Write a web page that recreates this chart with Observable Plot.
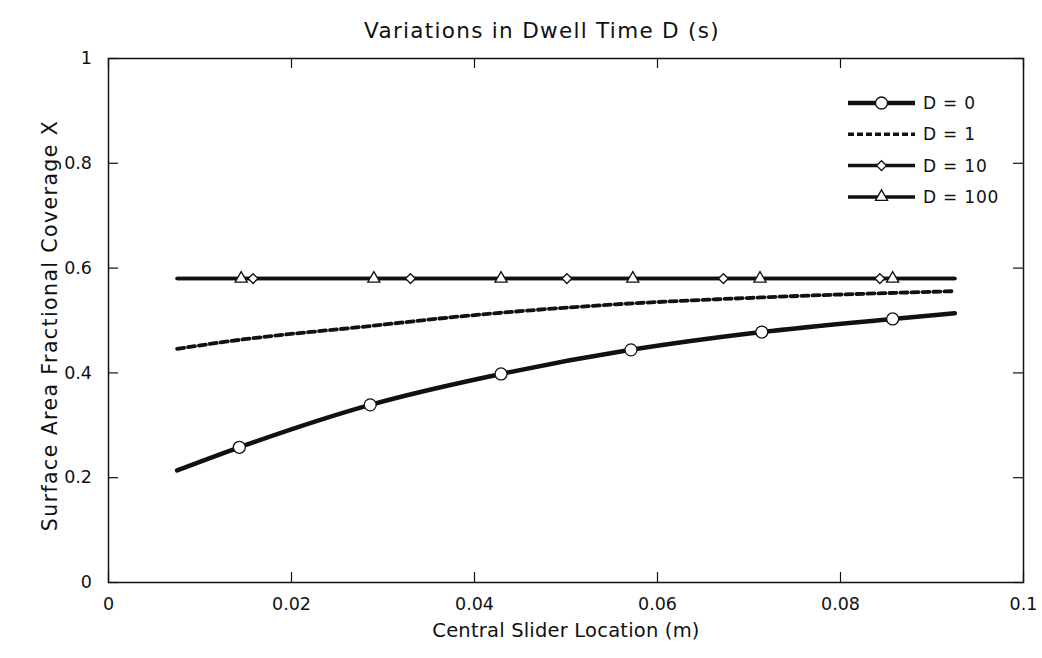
<!DOCTYPE html>
<html>
<head>
<meta charset="utf-8">
<script src="https://cdn.jsdelivr.net/npm/d3@7"></script>
<script src="https://cdn.jsdelivr.net/npm/@observablehq/plot@0.6"></script>
<style>
  html, body { margin: 0; padding: 0; background: #fff; }
  #wrap { position: relative; width: 1042px; height: 658px; font-family: "DejaVu Sans", sans-serif; }
  #legend { position: absolute; left: 0; top: 0; }
</style>
</head>
<body>
<div id="wrap"></div>
<script>
// ---- data ----
const titleText = "Variations in Dwell Time D (s)";
const xLabel = "Central Slider Location (m)";
const yLabel = "Surface Area Fractional Coverage X";
const xTicks = [0, 0.02, 0.04, 0.06, 0.08, 0.1];
const yTicks = [0, 0.2, 0.4, 0.6, 0.8, 1];
const seriesNames = ["D = 0", "D = 1", "D = 10", "D = 100"];

// D = 0 curve
const d0X = [0.0075, 0.0143, 0.0286, 0.0429, 0.0571, 0.0714, 0.0857, 0.0925];
const d0Y = [0.214, 0.258, 0.339, 0.398, 0.444, 0.478, 0.503, 0.514];
const d0MarkX = [0.0143, 0.0286, 0.0429, 0.0571, 0.0714, 0.0857];
const d0MarkY = [0.258, 0.339, 0.398, 0.444, 0.478, 0.503];

// D = 1 dashed
const d1X = [0.0075, 0.0143, 0.0289, 0.0374, 0.0538, 0.0713, 0.0925];
const d1Y = [0.446, 0.463, 0.490, 0.506, 0.529, 0.544, 0.556];

// D = 10 flat
const d10X = [0.0075, 0.0925];
const d10Y = [0.58, 0.58];
const d10MarkX = [0.0158, 0.0330, 0.0501, 0.0672, 0.0843];
const d10MarkY = [0.58, 0.58, 0.58, 0.58, 0.58];

// D = 100 flat
const d100X = [0.0075, 0.0925];
const d100Y = [0.58, 0.58];
const d100MarkX = [0.0145, 0.0290, 0.0429, 0.0573, 0.0712, 0.0857];
const d100MarkY = [0.58, 0.58, 0.58, 0.58, 0.58, 0.58];

// ---- build ----
const zip = (xs, ys) => xs.map((x, i) => ({x, y: ys[i]}));
const ink = "#111";
const font = '"DejaVu Sans", sans-serif';
const W = 1042, H = 658;
const mL = 108, mR = 19, mT = 58, mB = 76;
const xTickLen = 0.1 * 10 / (W - mL - mR);
const yTickLen = 1 * 10 / (H - mT - mB);
const dash = "7,4";

const chart = Plot.plot({
  width: W, height: H,
  marginLeft: mL, marginRight: mR, marginTop: mT, marginBottom: mB,
  style: {fontFamily: font, color: ink, background: "#fff"},
  x: {domain: [0, 0.1], label: null},
  y: {domain: [0, 1], label: null},
  marks: [
    Plot.frame({stroke: ink, strokeWidth: 1.5}),
    Plot.axisX({ticks: xTicks, tickSize: 0, tickPadding: 15, fontSize: 17.5, tickFormat: d => String(d), label: null}),
    Plot.axisY({ticks: yTicks, tickSize: 0, tickPadding: 16.5, fontSize: 17.5, tickFormat: d => String(d), label: null}),
    Plot.ruleX(xTicks, {x: d => d, y1: 0, y2: yTickLen, stroke: ink, strokeWidth: 1.2}),
    Plot.ruleX(xTicks, {x: d => d, y1: 1, y2: 1 - yTickLen, stroke: ink, strokeWidth: 1.2}),
    Plot.ruleY(yTicks, {y: d => d, x1: 0, x2: xTickLen, stroke: ink, strokeWidth: 1.2}),
    Plot.ruleY(yTicks, {y: d => d, x1: 0.1, x2: 0.1 - xTickLen, stroke: ink, strokeWidth: 1.2}),
    Plot.text([titleText], {frameAnchor: "top", dy: -36, dx: -24, fontSize: 21.5, fill: ink}),
    Plot.text([xLabel], {frameAnchor: "bottom", dy: 54, fontSize: 19.5, fill: ink}),
    Plot.text([yLabel], {frameAnchor: "left", dx: -58, dy: 5, rotate: -90, textAnchor: "middle", fontSize: 20.5, fill: ink}),
    // lines
    Plot.line(zip(d10X, d10Y), {x: "x", y: "y", stroke: ink, strokeWidth: 3.5}),
    Plot.line(zip(d100X, d100Y), {x: "x", y: "y", stroke: ink, strokeWidth: 3.5}),
    Plot.line(zip(d1X, d1Y), {x: "x", y: "y", stroke: ink, strokeWidth: 3.8, strokeDasharray: dash, curve: "monotone-x"}),
    Plot.line(zip(d0X, d0Y), {x: "x", y: "y", stroke: ink, strokeWidth: 4.5, curve: "monotone-x"}),
    // markers
    Plot.dot(zip(d0MarkX, d0MarkY), {x: "x", y: "y", r: 6, fill: "#fff", stroke: ink, strokeWidth: 1.3}),
    Plot.dot(zip(d10MarkX, d10MarkY), {x: "x", y: "y", r: 4.4, symbol: "diamond2", fill: "#fff", stroke: ink, strokeWidth: 1.3}),
    Plot.dot(zip(d100MarkX, d100MarkY), {x: "x", y: "y", r: 4.5, symbol: "triangle", fill: "#fff", stroke: ink, strokeWidth: 1.3})
  ]
});
document.getElementById("wrap").appendChild(chart);

// letter spacing for the label texts
const spacing = new Map([[titleText, "1.3px"], [xLabel, "0.2px"], [yLabel, "1.4px"]]);
d3.select(chart).selectAll("text").each(function () {
  const s = spacing.get(this.textContent);
  if (s) this.style.letterSpacing = s;
});

// ---- legend (overlay) ----
const leg = d3.select("#wrap").append("svg").attr("id", "legend").attr("width", W).attr("height", H);
const lx0 = 848, lx1 = 915, ly0 = 103, lstep = 31.3, tx = 923;
const styles = [
  {w: 4.5, dash: null, sym: "circle"},
  {w: 3.5, dash: "6,3", sym: null},
  {w: 3.5, dash: null, sym: "diamond"},
  {w: 3.5, dash: null, sym: "triangle"}
];
seriesNames.forEach((name, i) => {
  const y = ly0 + i * lstep, s = styles[i], cx = (lx0 + lx1) / 2;
  leg.append("line").attr("x1", lx0).attr("x2", lx1).attr("y1", y).attr("y2", y)
    .attr("stroke", ink).attr("stroke-width", s.w).attr("stroke-dasharray", s.dash);
  if (s.sym === "circle") {
    leg.append("circle").attr("cx", cx).attr("cy", y).attr("r", 6).attr("fill", "#fff").attr("stroke", ink).attr("stroke-width", 1.3);
  } else if (s.sym === "diamond") {
    leg.append("path").attr("transform", `translate(${cx},${y})`).attr("d", d3.symbol(d3.symbolDiamond2, 4.4 * 4.4 * Math.PI)())
      .attr("fill", "#fff").attr("stroke", ink).attr("stroke-width", 1.3);
  } else if (s.sym === "triangle") {
    leg.append("path").attr("transform", `translate(${cx},${y})`).attr("d", d3.symbol(d3.symbolTriangle, 4.5 * 4.5 * Math.PI)())
      .attr("fill", "#fff").attr("stroke", ink).attr("stroke-width", 1.3);
  }
  leg.append("text").attr("x", tx).attr("y", y).attr("dy", "0.36em")
    .attr("font-size", 17).attr("fill", ink).style("letter-spacing", "0.8px")
    .attr("font-family", font).text(name);
});
</script>
</body>
</html>
